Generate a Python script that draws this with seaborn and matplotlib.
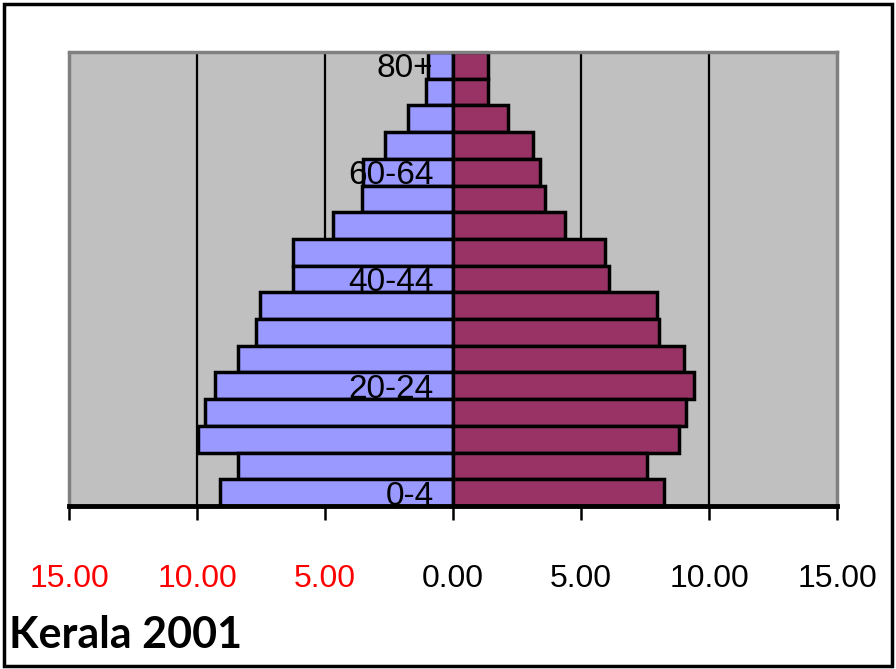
import numpy as np
import pandas as pd
import matplotlib
matplotlib.use("Agg")
import matplotlib.pyplot as plt
import seaborn as sns

# ── data (percent of population) ─────────────────────────────────────────────
ages = ["80+", "75-79", "70-74", "65-69", "60-64", "55-59", "50-54", "45-49",
        "40-44", "35-39", "30-34", "25-29", "20-24", "15-19", "10-14", "5-9", "0-4"]
male = [0.98, 1.05, 1.75, 2.64, 3.50, 3.55, 4.70, 6.26,
        6.26, 7.52, 7.71, 8.41, 9.28, 9.67, 9.96, 8.41, 9.10]
female = [1.36, 1.36, 2.14, 3.11, 3.40, 3.59, 4.37, 5.93,
          6.10, 7.96, 8.05, 9.04, 9.41, 9.11, 8.83, 7.56, 8.26]
shown_ages = ["80+", "60-64", "40-44", "20-24", "0-4"]
x_ticks = [-15, -10, -5, 0, 5, 10, 15]
grid_x = [-10, -5, 5, 10]
title = "Kerala 2001"

df = pd.DataFrame({"age": ages, "male": male, "female": female})
df["male_left"] = -df["male"]   # males drawn to the left

sns.set_style("white")
plt.rcParams["font.family"] = ["Liberation Sans", "DejaVu Sans"]
plt.rcParams["text.color"] = "black"
plt.rcParams["xtick.color"] = "black"
plt.rcParams["ytick.color"] = "black"

fig = plt.figure(figsize=(8.96, 6.69), dpi=100)
ax = fig.add_axes([69 / 896, 1 - 506 / 669, (837 - 69) / 896, (506 - 52) / 669])
ax.set_facecolor("#C0C0C0")

# gridlines behind the bars
for g in grid_x:
    ax.axvline(g, color="black", linewidth=1.6, zorder=0.5)

sns.barplot(data=df, x="male_left", y="age", order=ages, orient="h",
            color="#9999FF", saturation=1, width=1.0,
            edgecolor="black", linewidth=2.5, ax=ax, zorder=2)
sns.barplot(data=df, x="female", y="age", order=ages, orient="h",
            color="#993366", saturation=1, width=1.0,
            edgecolor="black", linewidth=2.5, ax=ax, zorder=2)

ax.set_xlim(-15, 15)
ax.set_ylim(len(ages) - 0.5, -0.5)
ax.set_xlabel("")
ax.set_ylabel("")
ax.grid(False)
ax.set_axisbelow(False)

# x tick labels: left side red, shown as positive numbers
ax.set_xticks(x_ticks)
ax.set_xticklabels([f"{abs(v):.2f}" for v in x_ticks])
for lbl, v in zip(ax.get_xticklabels(), x_ticks):
    lbl.set_color("red" if v < 0 else "black")
ax.tick_params(axis="x", direction="out", length=10, width=1.8, pad=32,
               labelsize=23, color="black", bottom=True)

# y labels sit next to the zero line
ax.spines["left"].set_position(("data", 0))
ax.spines["left"].set_visible(False)
ax.set_yticks([ages.index(a) for a in shown_ages])
ax.set_yticklabels(shown_ages)
ax.tick_params(axis="y", length=0, pad=14, labelsize=24)

# plot-area frame
for side in ["top", "right"]:
    ax.spines[side].set_color("#808080")
    ax.spines[side].set_linewidth(2.5)
ax.plot([0, 0], [0, 1], transform=ax.transAxes, color="#808080",
        lw=2.5, clip_on=False, zorder=5)
ax.spines["bottom"].set_color("black")
ax.spines["bottom"].set_linewidth(3.5)
ax.spines["bottom"].set_zorder(6)

# outer frame
fig.add_artist(plt.Rectangle((0.004, 0.004), 0.992, 0.99, transform=fig.transFigure,
                             fill=False, edgecolor="black", linewidth=2.5))

fig.text(0.010, 0.031, title, fontsize=31, fontweight="bold", color="black",
         family=["Lato", "DejaVu Sans"], va="baseline", ha="left")

fig.savefig("out.png", dpi=100)
